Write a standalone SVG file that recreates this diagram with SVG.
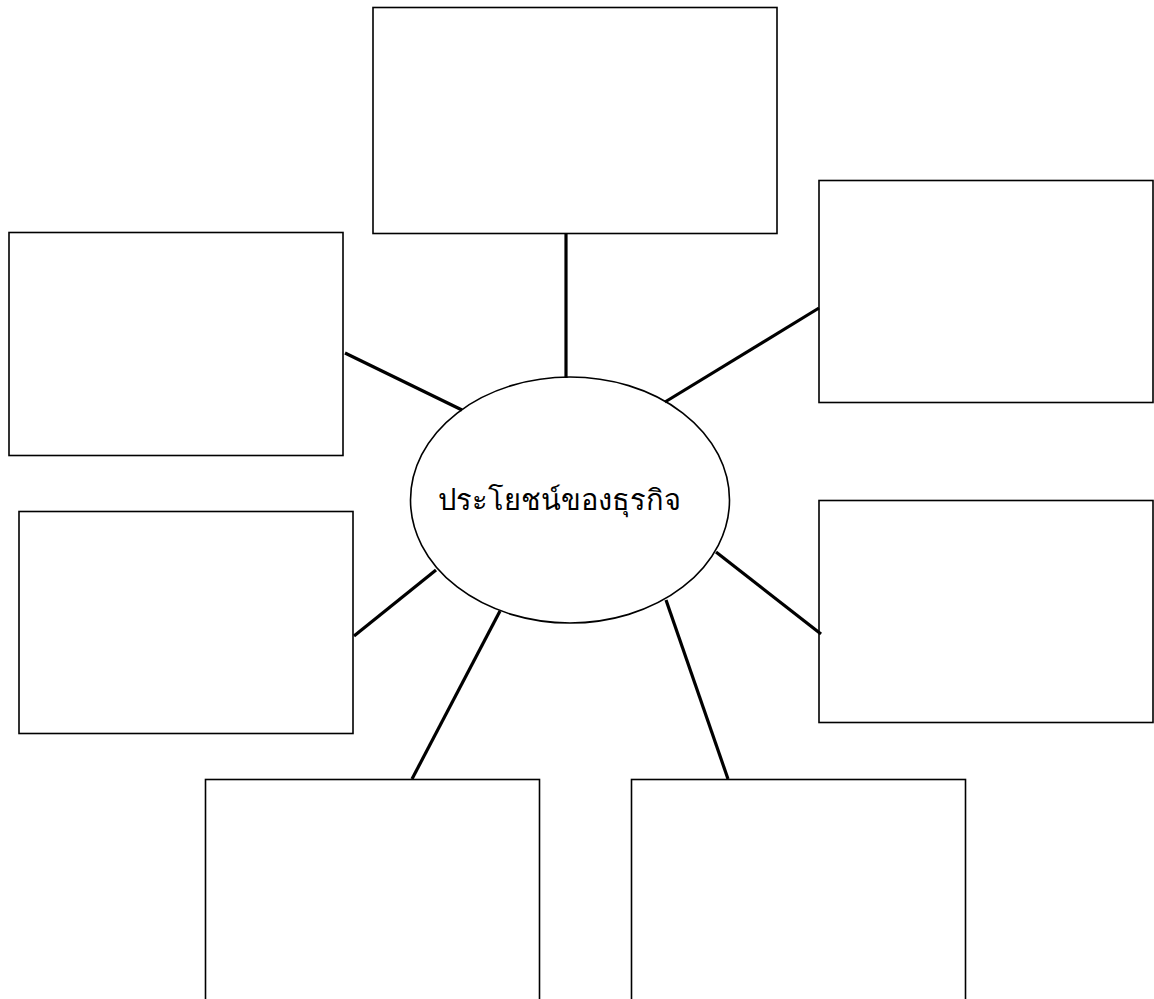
<svg xmlns="http://www.w3.org/2000/svg" width="1154" height="999" viewBox="0 0 1154 999">
<style>
.box{fill:#fff;stroke:#000;stroke-width:1.6}
.conn line{stroke:#000;stroke-width:3.2}
.lbl{font-family:"Liberation Serif","DejaVu Serif",serif;font-size:29px;font-weight:normal;fill:#000;text-anchor:middle}
</style>
<rect width="1154" height="999" fill="#fff"/>
<g id="box-top"><rect class="box" x="373" y="7.5" width="404" height="226"/></g>
<g id="box-left-top"><rect class="box" x="9" y="232.5" width="334" height="223"/></g>
<g id="box-right-top"><rect class="box" x="819" y="180.5" width="334" height="222"/></g>
<g id="box-left-mid"><rect class="box" x="19" y="511.5" width="334" height="222"/></g>
<g id="box-right-mid"><rect class="box" x="819" y="500.5" width="334" height="222"/></g>
<g id="box-bottom-left"><rect class="box" x="205.5" y="779.5" width="334" height="240"/></g>
<g id="box-bottom-right"><rect class="box" x="631.5" y="779.5" width="334" height="240"/></g>
<g id="center">
<ellipse cx="570" cy="500" rx="159.5" ry="123" fill="#fff" stroke="#000" stroke-width="1.6"/>
<text class="lbl" x="559" y="510">ประโยชน์ของธุรกิจ</text>
</g>
<g id="connectors" class="conn">
<line x1="566" y1="234" x2="566" y2="378"/>
<line x1="345" y1="353" x2="462" y2="410"/>
<line x1="819" y1="308" x2="665" y2="402"/>
<line x1="354" y1="636" x2="436" y2="570"/>
<line x1="716" y1="552" x2="821" y2="634"/>
<line x1="412" y1="779" x2="500" y2="611"/>
<line x1="666" y1="600" x2="728" y2="779"/>
</g>
</svg>
